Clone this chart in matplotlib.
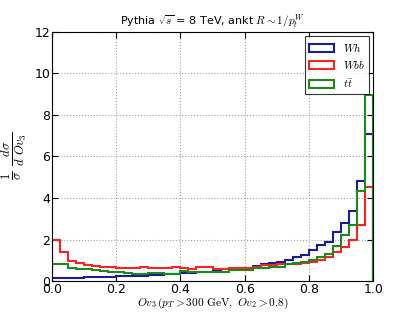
import numpy as np
import matplotlib
matplotlib.use("Agg")
import matplotlib.pyplot as plt

plt.rcParams['mathtext.fontset'] = 'cm'
plt.rcParams['font.family'] = 'DejaVu Sans'

edges = np.linspace(0.0, 1.0, 41)

wh = [0.15, 0.15, 0.16, 0.17, 0.18, 0.19, 0.20, 0.21, 0.23, 0.25,
      0.26, 0.27, 0.29, 0.29, 0.33, 0.36, 0.38, 0.40, 0.42, 0.45,
      0.48, 0.58, 0.60, 0.58, 0.64, 0.74, 0.82, 0.88, 0.90, 1.04,
      1.17, 1.28, 1.49, 1.73, 1.89, 2.35, 2.82, 3.37, 4.82, 7.10]

wbb = [2.00, 1.42, 0.95, 0.85, 0.77, 0.72, 0.66, 0.66, 0.65, 0.65,
       0.62, 0.66, 0.64, 0.62, 0.65, 0.66, 0.62, 0.60, 0.68, 0.67,
       0.60, 0.56, 0.62, 0.64, 0.65, 0.70, 0.76, 0.78, 0.80, 0.80,
       0.82, 0.86, 0.90, 1.02, 1.14, 1.40, 1.65, 1.98, 2.68, 4.55]

tt = [0.83, 0.83, 0.65, 0.60, 0.58, 0.55, 0.48, 0.45, 0.42, 0.38,
      0.34, 0.36, 0.38, 0.37, 0.33, 0.32, 0.48, 0.46, 0.45, 0.45,
      0.45, 0.45, 0.52, 0.52, 0.55, 0.61, 0.61, 0.69, 0.70, 0.80,
      0.88, 0.92, 1.00, 1.17, 1.30, 1.68, 2.20, 2.68, 4.36, 8.95]

series = [(wh, '#1a1a9c', r'$Wh$'), (wbb, '#ff2020', r'$Wbb$'), (tt, '#1a8a1a', r'$t\bar{t}$')]

fig = plt.figure(figsize=(4.15, 3.12), dpi=100)
ax = fig.add_axes([0.1246, 0.099, 0.775, 0.799])

centers = 0.5 * (edges[:-1] + edges[1:])
for vals, col, lab in series:
    ax.hist(centers, bins=edges, weights=vals, histtype='step', color=col,
            linewidth=1.5, label=lab)

ax.set_xlim(0, 1)
ax.set_ylim(0, 12)
ax.set_xticks([0.0, 0.2, 0.4, 0.6, 0.8, 1.0])
ax.set_xticklabels(['0.0', '0.2', '0.4', '0.6', '0.8', '1.0'])
ax.set_yticks([0, 2, 4, 6, 8, 10, 12])
ax.tick_params(direction='in', top=True, right=True, labelsize=9, length=4, pad=1)
ax.grid(True, linestyle=':', color='#a0a0a0', linewidth=0.8)
ax.set_axisbelow(True)

ax.set_title(r'Pythia $\sqrt{s}$ = 8 TeV, ankt $R\sim1/p_t^W$', fontsize=8, pad=5)
ax.set_xlabel(r'$Ov_3\,(p_T>300\ \mathrm{GeV},\ Ov_2>0.8)$', fontsize=8.2, labelpad=0)
ax.set_ylabel(r'$\frac{1}{\sigma}\ \frac{d\sigma}{d\ Ov_3}$', fontsize=13, labelpad=4)

leg = ax.legend(loc='upper right', fontsize=8, frameon=True, fancybox=False,
                borderaxespad=0.4, handlelength=2.2, handletextpad=0.8,
                labelspacing=0.5)
leg.get_frame().set_edgecolor('black')
leg.get_frame().set_linewidth(0.8)

fig.savefig('out.png', dpi=100)
